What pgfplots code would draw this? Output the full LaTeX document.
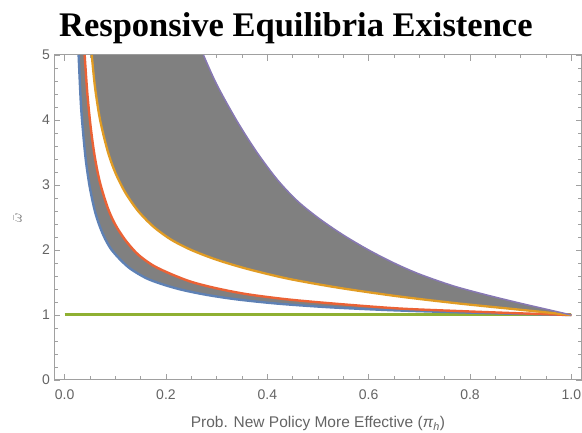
\documentclass[border=0pt]{standalone}
\usepackage{fontspec}
\setmainfont{Liberation Sans}
\newfontfamily\titlefont{Liberation Serif}
\usepackage{pgfplots}
\usepackage{pgfplotstable}
\pgfplotsset{compat=1.18}
\usepgfplotslibrary{fillbetween}

\definecolor{mmaBlue}{rgb}{0.368,0.507,0.710}
\definecolor{mmaOrange}{rgb}{0.881,0.611,0.142}
\definecolor{mmaGreen}{rgb}{0.560,0.692,0.195}
\definecolor{mmaRed}{rgb}{0.923,0.386,0.209}
\definecolor{mmaPurple}{rgb}{0.528,0.471,0.701}
\definecolor{fillGray}{RGB}{128,128,128}
\definecolor{frameGray}{RGB}{160,160,160}
\definecolor{labelGray}{RGB}{100,100,100}

% lower bound of the first region
\pgfplotstableread{
x y
0.0276 5.00
0.032 4.26
0.036 3.85
0.042 3.37
0.050 2.95
0.060 2.59
0.070 2.35
0.080 2.17
0.092 2.01
0.110 1.85
0.130 1.71
0.160 1.57
0.190 1.48
0.230 1.39
0.280 1.31
0.340 1.24
0.420 1.175
0.520 1.12
0.640 1.075
0.760 1.045
0.880 1.02
1.000 1.00
}\blueData

% upper bound of the first region
\pgfplotstableread{
x y
0.0395 5.00
0.045 4.39
0.052 3.85
0.060 3.41
0.070 3.03
0.085 2.65
0.100 2.39
0.120 2.15
0.145 1.93
0.175 1.76
0.210 1.63
0.250 1.51
0.300 1.41
0.360 1.32
0.440 1.24
0.540 1.17
0.660 1.10
0.780 1.06
0.900 1.025
1.000 1.00
}\redData

% lower bound of the second region
\pgfplotstableread{
x y
0.0535 5.00
0.060 4.50
0.070 4.00
0.085 3.52
0.100 3.19
0.120 2.88
0.145 2.60
0.175 2.36
0.210 2.16
0.250 2.00
0.300 1.85
0.360 1.71
0.440 1.56
0.540 1.42
0.660 1.285
0.780 1.175
0.900 1.08
1.000 1.00
}\orangeData

% upper bound of the second region
\pgfplotstableread{
x y
0.274 5.00
0.300 4.55
0.339 4.00
0.378 3.52
0.420 3.08
0.460 2.75
0.503 2.48
0.550 2.23
0.600 2.00
0.650 1.80
0.700 1.63
0.766 1.45
0.832 1.31
0.900 1.18
0.950 1.09
1.000 1.00
}\purpleData

\pgfplotstableread{
x y
0 1
1 1
}\greenData

\begin{document}
\begin{tikzpicture}
\begin{axis}[
    at={(0,0)}, anchor=south west,
    scale only axis,
    width=527pt, height=325pt,
    xmin=-0.02, xmax=1.02,
    ymin=0, ymax=5,
    xtick={0,0.2,0.4,0.6,0.8,1.0},
    ytick={0,1,2,3,4,5},
    minor x tick num=3,
    minor y tick num=4,
    tick align=inside,
    major tick length=6pt,
    minor tick length=3.5pt,
    axis line style={frameGray, line width=1pt},
    every tick/.style={frameGray, line width=0.8pt},
    /pgf/number format/assume math mode=true,
    xticklabel style={yshift=-6pt, /pgf/number format/.cd, fixed, fixed zerofill, precision=1},
    yticklabel style={xshift=-1pt},
    ticklabel style={font=\fontsize{14}{16}\selectfont, text=labelGray},
    xlabel={Prob. New Policy More Effective (\textit{π}\textsubscript{\textit{h}})},
    xlabel style={at={(rel axis cs:0.5,-0.1477)}, anchor=base,
        font=\fontsize{15.5}{17}\selectfont, text=labelGray},
    ylabel={$\bar{\omega}$},
    ylabel style={at={(rel axis cs:-0.07,0.5)}, anchor=center,
        font=\fontsize{15}{17}\selectfont, text=labelGray},
    title={Responsive Equilibria Existence},
    title style={at={(rel axis cs:0.458,1)}, anchor=base, yshift=12pt,
        font=\titlefont\bfseries\fontsize{34.5}{40}\selectfont},
]
% boundary paths for the shaded regions
\addplot[draw=none, smooth, name path=lowA] table {\blueData};
\addplot[draw=none, smooth, name path=upA] table {\redData};
\addplot[draw=none, smooth, name path=lowB] table {\orangeData};
\addplot[draw=none, smooth, name path=upB] table {\purpleData};
\addplot[fillGray] fill between[of=lowA and upA];
\addplot[fillGray] fill between[of=lowB and upB];

% curves on top
\addplot[mmaGreen, line width=3pt] table {\greenData};
\addplot[mmaBlue, smooth, line width=2.4pt] table {\blueData};
\addplot[mmaRed, smooth, line width=2.4pt] table {\redData};
\addplot[mmaOrange, smooth, line width=2.3pt] table {\orangeData};
\addplot[mmaPurple, smooth, line width=1.5pt] table {\purpleData};
\end{axis}
\pgfresetboundingbox
\useasboundingbox (-54.5pt,-53pt) rectangle (527.5pt,380pt);
\end{tikzpicture}
\end{document}
